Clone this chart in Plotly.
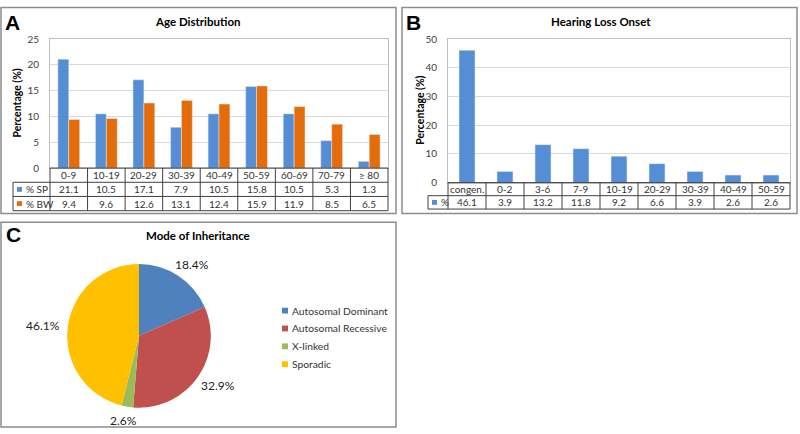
import math
import plotly.graph_objects as go

# ---------------- data ----------------
age_groups = ["0-9", "10-19", "20-29", "30-39", "40-49", "50-59", "60-69", "70-79", "≥ 80"]
pct_sp = [21.1, 10.5, 17.1, 7.9, 10.5, 15.8, 10.5, 5.3, 1.3]
pct_bw = [9.4, 9.6, 12.6, 13.1, 12.4, 15.9, 11.9, 8.5, 6.5]
series_names = ["% SP", "% BW"]

onset_groups = ["congen.", "0-2", "3-6", "7-9", "10-19", "20-29", "30-39", "40-49", "50-59"]
onset_pct = [46.1, 3.9, 13.2, 11.8, 9.2, 6.6, 3.9, 2.6, 2.6]
onset_name = "%"

modes = ["Autosomal Dominant", "Autosomal Recessive", "X-linked", "Sporadic"]
mode_pct = [18.4, 32.9, 2.6, 46.1]

# ---------------- style ----------------
W, H = 800, 434
FONT = "Lato, 'Open Sans', sans-serif"
BLUE = "#558ED5"
ORANGE = "#E46C0A"
PIE_COLORS = ["#4F81BD", "#C0504D", "#9BBB59", "#FFC000"]
GRID = "#D9D9D9"
TABLE_LINE = "#404040"
FRAME = "#8C8C8C"


def fx(px):
    return px / W


def fy(py):
    return 1 - py / H


fig = go.Figure()

# ---- Panel A bars ----
fig.add_trace(go.Bar(x=age_groups, y=pct_sp, name=series_names[0], marker_color=BLUE,
                     width=0.29, offset=-0.29, xaxis="x", yaxis="y", showlegend=False))
fig.add_trace(go.Bar(x=age_groups, y=pct_bw, name=series_names[1], marker_color=ORANGE,
                     width=0.29, offset=0.0, xaxis="x", yaxis="y", showlegend=False))

# ---- Panel B bars ----
fig.add_trace(go.Bar(x=onset_groups, y=onset_pct, name=onset_name, marker_color=BLUE,
                     width=0.42, xaxis="x2", yaxis="y2", showlegend=False))

# ---- Panel C pie ----
PIE_CX, PIE_CY, PIE_R = 139, 339, 74
fig.add_trace(go.Pie(labels=modes, values=mode_pct, sort=False, direction="clockwise",
                     rotation=0, marker=dict(colors=PIE_COLORS, line=dict(width=0)),
                     textposition="none",
                     domain=dict(x=[fx(PIE_CX - PIE_R), fx(PIE_CX + PIE_R)],
                                 y=[fy(PIE_CY + PIE_R), fy(PIE_CY - PIE_R)]),
                     hoverinfo="label+value", showlegend=False))

axis_common = dict(showgrid=False, zeroline=False, fixedrange=True)

# Panel A geometry
A_L, A_R, A_T, A_B = 50, 388, 33, 166
A_ROWS = [166, 180.7, 195.3, 210]
A_LABEL_L = 13
# Panel B geometry
B_L, B_R, B_T, B_B = 448, 790, 33, 181
B_ROWS = [181, 194.5, 208.3]
B_LABEL_L = 428

fig.update_layout(
    width=W, height=H, autosize=False,
    margin=dict(l=0, r=0, t=0, b=0),
    paper_bgcolor="white", plot_bgcolor="white",
    font=dict(family=FONT, size=10, color="#333"),
    barmode="overlay",
    xaxis=dict(domain=[fx(A_L), fx(A_R)], anchor="y", showticklabels=False,
               showline=True, linecolor="#BFBFBF", mirror=True, ticks="", **axis_common),
    yaxis=dict(domain=[fy(A_B), fy(A_T)], anchor="x", range=[0, 25], dtick=5,
               showgrid=True, gridcolor=GRID, showline=True, linecolor="#BFBFBF",
               mirror=True, ticks="", ticklabelstandoff=8,
               tickfont=dict(size=10, color="#404040"), zeroline=False, fixedrange=True),
    xaxis2=dict(domain=[fx(B_L), fx(B_R)], anchor="y2", showticklabels=False,
                showline=True, linecolor="#BFBFBF", mirror=True, ticks="", **axis_common),
    yaxis2=dict(domain=[fy(B_B), fy(B_T)], anchor="x2", range=[0, 50], dtick=10,
                showgrid=True, gridcolor=GRID, showline=True, linecolor="#BFBFBF",
                mirror=True, ticks="", ticklabelstandoff=8,
                tickfont=dict(size=10, color="#404040"), zeroline=False, fixedrange=True),
    showlegend=False,
)

shapes = []
annotations = []

# Panel frames
for x0, y0, x1, y1 in [(1, 0.5, 396, 213), (402, 0.5, 797, 213), (1, 222, 396, 433)]:
    shapes.append(dict(type="rect", xref="paper", yref="paper",
                       x0=fx(x0), x1=fx(x1), y0=fy(y1), y1=fy(y0),
                       line=dict(color=FRAME, width=1.5)))

# Panel letters
for letter, x, y in [("A", 12, 16), ("B", 414, 16), ("C", 13, 235)]:
    annotations.append(dict(text=f"<b>{letter}</b>", x=fx(x), y=fy(y), xref="paper", yref="paper",
                            showarrow=False, xanchor="center", yanchor="middle",
                            font=dict(family="Liberation Sans, Arial, sans-serif", size=21, color="black")))

# Titles
for title, x, y in [("Age Distribution", 198, 15), ("Hearing Loss Onset", 601, 15),
                    ("Mode of Inheritance", 198, 236)]:
    annotations.append(dict(text=f"<b>{title}</b>", x=fx(x), y=fy(y), xref="paper", yref="paper",
                            showarrow=False, xanchor="center", yanchor="middle",
                            font=dict(size=11.5, color="black")))

# Y titles
for x, y in [(17, (A_T + A_B) / 2), (420, (B_T + B_B) / 2)]:
    annotations.append(dict(text="<b>Percentage (%)</b>", x=fx(x), y=fy(y), xref="paper", yref="paper",
                            showarrow=False, textangle=-90, xanchor="center", yanchor="middle",
                            font=dict(size=10.5, color="black")))


def add_table(xref, cats, rows_y, label_left, plot_left, plot_right, series):
    n = len(cats)
    shapes.append(dict(type="line", xref="paper", yref="paper", x0=fx(plot_left), x1=fx(plot_right),
                       y0=fy(rows_y[0]), y1=fy(rows_y[0]), line=dict(color=TABLE_LINE, width=1)))
    for ry in rows_y[1:]:
        shapes.append(dict(type="line", xref="paper", yref="paper", x0=fx(label_left), x1=fx(plot_right),
                           y0=fy(ry), y1=fy(ry), line=dict(color=TABLE_LINE, width=1)))
    for k in range(n + 1):
        shapes.append(dict(type="line", xref=f"{xref} domain", yref="paper", x0=k / n, x1=k / n,
                           y0=fy(rows_y[-1]), y1=fy(rows_y[0]), line=dict(color=TABLE_LINE, width=1)))
    shapes.append(dict(type="line", xref="paper", yref="paper", x0=fx(label_left), x1=fx(label_left),
                       y0=fy(rows_y[-1]), y1=fy(rows_y[1]), line=dict(color=TABLE_LINE, width=1)))
    cy = (rows_y[0] + rows_y[1]) / 2
    for c in cats:
        annotations.append(dict(text=c, x=c, xref=xref, y=fy(cy), yref="paper", showarrow=False,
                                xanchor="center", yanchor="middle", font=dict(size=10, color="#333")))
    for r, (name, vals, color) in enumerate(series):
        ry = (rows_y[r + 1] + rows_y[r + 2]) / 2
        for c, v in zip(cats, vals):
            annotations.append(dict(text=f"{v:.1f}", x=c, xref=xref, y=fy(ry), yref="paper",
                                    showarrow=False, xanchor="center", yanchor="middle",
                                    font=dict(size=10, color="#333")))
        sq = label_left + 4
        shapes.append(dict(type="rect", xref="paper", yref="paper", x0=fx(sq), x1=fx(sq + 5),
                           y0=fy(ry + 2.5), y1=fy(ry - 2.5), fillcolor=color, line=dict(width=0)))
        annotations.append(dict(text=name, x=fx(sq + 7), xref="paper", y=fy(ry), yref="paper",
                                showarrow=False, xanchor="left", yanchor="middle",
                                font=dict(size=10, color="#333")))


add_table("x", age_groups, A_ROWS, A_LABEL_L, A_L, A_R,
          [(series_names[0], pct_sp, BLUE), (series_names[1], pct_bw, ORANGE)])
add_table("x2", onset_groups, B_ROWS, B_LABEL_L, B_L, B_R,
          [(onset_name, onset_pct, BLUE)])

# Pie percentage labels, placed outside each slice at its mid-angle
total = sum(mode_pct)
cum = 0.0
LAB_RX, LAB_RY = 97, 88
for v in mode_pct:
    ang = 2 * math.pi * (cum + v / 2) / total
    cum += v
    lx = PIE_CX + LAB_RX * math.sin(ang)
    ly = PIE_CY - LAB_RY * math.cos(ang)
    annotations.append(dict(text=f"{v:.1f}%", x=fx(lx), y=fy(ly), xref="paper", yref="paper",
                            showarrow=False, xanchor="center", yanchor="middle",
                            font=dict(size=12, color="#222")))

# Pie legend
LEG_X, LEG_Y0, LEG_DY = 282, 313, 18.4
for i, (m, col) in enumerate(zip(modes, PIE_COLORS)):
    ly = LEG_Y0 + i * LEG_DY
    shapes.append(dict(type="rect", xref="paper", yref="paper", x0=fx(LEG_X), x1=fx(LEG_X + 6),
                       y0=fy(ly + 3), y1=fy(ly - 3), fillcolor=col, line=dict(width=0)))
    annotations.append(dict(text=m, x=fx(LEG_X + 8), y=fy(ly), xref="paper", yref="paper",
                            showarrow=False, xanchor="left", yanchor="middle",
                            font=dict(size=10.3, color="#333")))

fig.update_layout(shapes=shapes, annotations=annotations)
fig.write_html("out.html", config={"displayModeBar": False},
               post_script="document.body.style.margin='0';document.body.style.overflow='hidden';")
